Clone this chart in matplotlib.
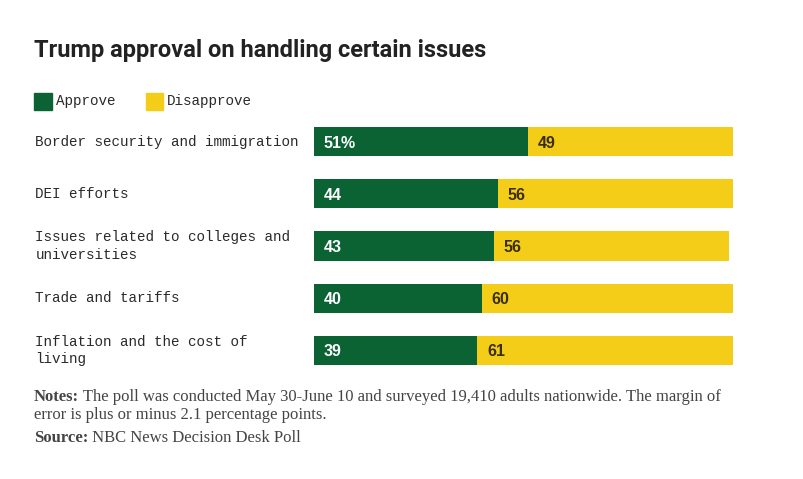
import matplotlib.pyplot as plt
from matplotlib.patches import Rectangle

# Data
issues = ["Border security and immigration", "DEI efforts",
          "Issues related to colleges and\nuniversities", "Trade and tariffs",
          "Inflation and the cost of\nliving"]
approve = [51, 44, 43, 40, 39]
disapprove = [49, 56, 56, 60, 61]
approve_labels = ["51%", "44", "43", "40", "39"]

GREEN = "#0b6334"
YELLOW = "#f3cd17"
W, H = 804, 479

fig = plt.figure(figsize=(W / 100, H / 100), dpi=100)
fig.patch.set_facecolor("white")

def fx(px):
    return px / W

def fy(py):
    return 1 - py / H

# Axes covering the bar area
ax = fig.add_axes([fx(314), fy(365), fx(733) - fx(314), fy(127) - fy(365)])
ax.set_xlim(0, 100)
ax.set_ylim(4.28, -0.28)
ax.axis("off")

ypos = list(range(len(issues)))
ax.barh(ypos, approve, height=0.56, color=GREEN, linewidth=0)
ax.barh(ypos, disapprove, left=approve, height=0.56, color=YELLOW, linewidth=0)

for y, a, d, lab, name in zip(ypos, approve, disapprove, approve_labels, issues):
    ax.text(2.3, y + 0.03, lab, color="white", fontsize=11.5, fontweight="bold",
            family="Liberation Sans", va="center", ha="left")
    ax.text(a + 2.3, y + 0.03, str(d), color="#3a2e0a", fontsize=11.5,
            fontweight="bold", family="Liberation Sans", va="center", ha="left")
    ax.text(-66.5, y, name, fontsize=10.3, family="Liberation Mono",
            color="#2a2a2a", va="center", ha="left", linespacing=1.3)

# Title
fig.text(fx(34), fy(50), "Trump approval on handling certain issues",
         fontsize=17, fontweight="bold", family="Roboto", color="#222222",
         va="center", ha="left")

# Legend
fig.patches.append(Rectangle((fx(34), fy(110)), fx(18), fy(93) - fy(110),
                             transform=fig.transFigure, color=GREEN))
fig.text(fx(56), fy(101.5), "Approve", fontsize=10.3, family="Liberation Mono",
         color="#2a2a2a", va="center", ha="left")
fig.patches.append(Rectangle((fx(146), fy(110)), fx(17), fy(93) - fy(110),
                             transform=fig.transFigure, color=YELLOW))
fig.text(fx(167), fy(101.5), "Disapprove", fontsize=10.3, family="Liberation Mono",
         color="#2a2a2a", va="center", ha="left")

# Notes and source
notes = [
    ("Notes:", " The poll was conducted May 30-June 10 and surveyed 19,410 adults nationwide. The margin of", 397),
    ("", "error is plus or minus 2.1 percentage points.", 415),
    ("Source:", " NBC News Decision Desk Poll", 438),
]
for bold, rest, py in notes:
    t = fig.text(fx(34), fy(py), bold, fontsize=12, fontweight="bold",
                 family="Liberation Serif", color="#444444", va="center", ha="left")
    fig.canvas.draw()
    bb = t.get_window_extent()
    x0 = bb.x1 / W if bold else fx(34)
    fig.text(x0, fy(py), rest, fontsize=12, family="Liberation Serif",
             color="#444444", va="center", ha="left")

fig.savefig("out.png", dpi=100)
